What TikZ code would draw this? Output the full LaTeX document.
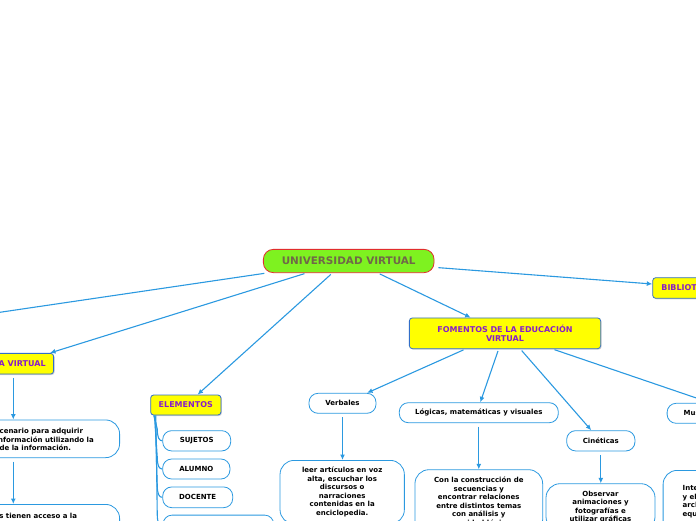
\documentclass[tikz,border=0pt]{standalone}
\usepackage{fontspec}
\setmainfont{DejaVu Sans}
\usetikzlibrary{arrows.meta,calc,shadows}
\definecolor{linkblue}{RGB}{43,153,224}
\definecolor{yborder}{RGB}{50,110,200}
\definecolor{purp}{RGB}{135,30,200}
\definecolor{ugreen}{RGB}{126,242,32}
\definecolor{ured}{RGB}{225,45,45}
\definecolor{utext}{RGB}{112,104,72}
\definecolor{yfill}{RGB}{255,255,0}
\tikzset{
 link/.style={draw=linkblue, line width=1.1pt},
 arr/.style={link, -{Latex[length=5.5pt,width=5pt]}, shorten <=2pt},
 varr/.style={link, -{Latex[length=5.5pt,width=5pt]}, shorten <=3.5pt},
 ybox/.style={draw=yborder, fill=yfill, rounded corners=3pt, line width=0.8pt,
   font=\bfseries\fontsize{8}{9.6}\selectfont, text=purp, align=center, inner ysep=0pt,
   drop shadow={shadow xshift=1pt,shadow yshift=-1pt,opacity=0.35}},
 wbox/.style={draw=linkblue, fill=white, rounded corners=9pt, line width=0.8pt,
   font=\bfseries\fontsize{7}{8.5}\selectfont, align=center, inner sep=0pt},
 bigbox/.style={wbox, rounded corners=14pt},
 txt/.style={font=\bfseries\fontsize{7}{8.5}\selectfont, inner sep=0pt, align=center},
}
\begin{document}
\begin{tikzpicture}[x=1pt,y=-1pt]
\path[use as bounding box] (0,0) rectangle (696,520);
\clip (0,0) rectangle (696,520);

% main nodes
\node[draw=ured, fill=ugreen, rounded corners=10pt, line width=0.8pt, minimum width=170.7pt,
  minimum height=23.3pt, inner sep=0pt, text=utext, font=\bfseries\fontsize{10.4}{12}\selectfont]
  (univ) at (348.7,261) {UNIVERSIDAD VIRTUAL};
\node[ybox, minimum width=191.3pt, minimum height=30.7pt, inner xsep=0pt] (fom) at (505,333.3)
  {FOMENTOS DE LA EDUCACIÓN\\VIRTUAL};
\node[ybox, anchor=west, minimum height=20.6pt, inner xsep=8.7pt] (bib) at (652.3,288) {BIBLIOTECA VIRTUAL};
\node[ybox, anchor=east, minimum height=20.7pt, inner xsep=8pt] (aula) at (54,363.7) {AULA VIRTUAL};
\node[ybox, minimum width=70.3pt, minimum height=20pt, inner xsep=0pt] (elem) at (185.8,405) {ELEMENTOS};

% small white boxes
\node[wbox, minimum width=68pt, minimum height=20.3pt] (suj) at (196.7,440.8) {SUJETOS};
\node[wbox, minimum width=67.3pt, minimum height=20pt] (alu) at (196.3,469) {ALUMNO};
\node[wbox, minimum width=70pt, minimum height=20.7pt] (doc) at (197.7,497.3) {DOCENTE};
\node[wbox, anchor=north west, minimum width=110.6pt, minimum height=22pt] (cuarto) at (162.7,514.7) {};
\node[wbox, minimum width=67pt, minimum height=20pt] (verb) at (342.5,403.3) {Verbales};
\node[wbox, minimum width=159pt, minimum height=20pt] (log) at (478.8,412.7) {Lógicas, matemáticas y visuales};
\node[wbox, minimum width=68.3pt, minimum height=20.3pt] (cin) at (600.8,440.8) {Cinéticas};
\node[wbox, anchor=west, minimum height=20pt, inner xsep=16.6pt] (mus) at (666.7,413.3) {Musicales};

% big boxes
\node[bigbox, anchor=north, minimum width=124.3pt, minimum height=63.4pt] (verbc) at (342.2,460)
  {leer artículos en voz\\alta, escuchar los\\discursos o\\narraciones\\contenidas en la\\enciclopedia.};
\node[bigbox, anchor=north, minimum width=127.7pt, minimum height=64pt] (logc) at (478.8,469.3)
  {Con la construcción de\\secuencias y\\encontrar relaciones\\entre distintos temas\\con análisis y\\capacidad lógica.};
\node[bigbox, anchor=north, minimum width=109pt, minimum height=47pt] (cinc) at (600.5,483.3)
  {Observar\\animaciones y\\fotografías e\\utilizar gráficas};
\node[bigbox, anchor=north west, minimum width=130pt, minimum height=80pt] (musc) at (662.7,470) {};
\node[txt, anchor=north west, align=left] (musct) at (682.5,485.5) {Interpretar\\y elaborar\\archivos de\\equipos};

% left boxes
\node[bigbox, anchor=east, minimum width=240pt, minimum height=37.7pt] (lb1) at (120,438.8) {};
\node[txt, anchor=base east] (lb1a) at (83.3,433.5) {es el escenario para adquirir};
\node[txt, anchor=base east] (lb1b) at (94,442) {la información utilizando la};
\node[txt, anchor=base east] (lb1c) at (71.3,450.5) {tecnología de la información.};
\node[bigbox, anchor=north east, minimum width=240pt, minimum height=40pt] (lb2) at (120,504) {};
\node[txt, anchor=base east] (lb2a) at (77.3,518.5) {Los alumnos tienen acceso a la};

% connectors from univ
\coordinate (offl) at (-100,327);
\draw[link, shorten <=2pt] ($(univ.south west)+(3.4,0)$) -- (offl);
\draw[arr] ($(univ.south west)+(43.4,0)$) -- ($(aula.north east)+(-4,0)$);
\draw[arr] ($(univ.south west)+(69.4,0)$) -- ($(elem.north west)+(47.3,0)$);
\draw[arr] ($(univ.south west)+(115,0)$) -- ($(fom.north west)+(61.7,0)$);
\draw[arr] ($(univ.east)+(2,6.5)$) -- ($(bib.west)+(0,-4)$);

% connectors from fom
\draw[arr] ($(fom.south west)+(56.4,0)$) -- ($(verb.north east)+(-9.3,0)$);
\draw[arr] ($(fom.south west)+(89.7,0)$) -- ($(log.north west)+(81.4,0)$);
\draw[arr] ($(fom.south west)+(111.4,0)$) -- ($(cin.north west)+(25,0)$);
\draw[arr] ($(fom.south west)+(143.7,0)$) -- ($(mus.north west)+(44,0)$);

% vertical arrows
\coordinate (lx) at (13.3,0);
\draw[varr] (lx |- aula.south) -- (lx |- lb1.north);
\draw[varr] (lx |- lb1.south) -- (lx |- lb2.north);
\draw[varr] (verb.south) -- (verb.south |- verbc.north);
\draw[varr] (log.south) -- (log.south |- logc.north);
\draw[varr] (cin.south) -- (cin.south |- cinc.north);
\draw[varr] (mus.south) -- (mus.south |- musc.north);

% elementos branches
\foreach \bx/\dx in {suj/0, alu/1, doc/2, cuarto/3} {
  \draw[link] ($(elem.south west)+(3.5+\dx*0.7,0)$) -- ($(elem.south west |- \bx.west)+(7,-12)$)
    .. controls ($(elem.south west |- \bx.west)+(7,-3)$) and ($(elem.south west |- \bx.west)+(9,0)$) .. (\bx.west);
}
\end{tikzpicture}
\end{document}
